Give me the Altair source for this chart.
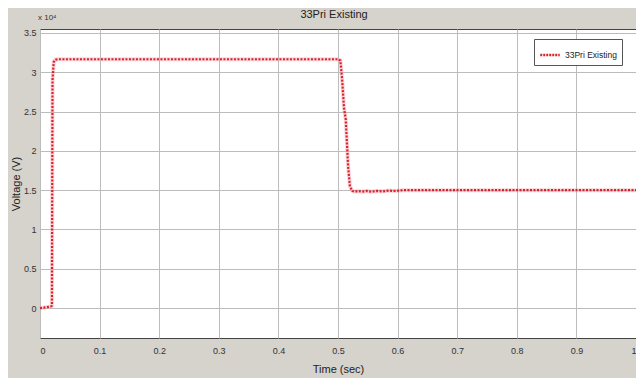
import altair as alt
import pandas as pd

# Time (sec) and voltage (V)
time_s = [0.0, 0.010, 0.018, 0.020, 0.021, 0.023, 0.026, 0.030, 0.10, 0.20, 0.30, 0.40, 0.500,
          0.504, 0.507, 0.510, 0.513, 0.517, 0.520, 0.524, 0.528, 0.534, 0.540, 0.548, 0.556,
          0.565, 0.575, 0.585, 0.595, 0.610, 0.70, 0.80, 0.90, 1.0]
voltage = [0, 100, 200, 300, 29000, 31300, 31600, 31650, 31650, 31650, 31650, 31650, 31650,
           31500, 29000, 25500, 24000, 18000, 15500, 14900, 14800, 14900, 14800, 14900, 14800,
           14900, 14850, 14950, 14900, 15000, 15000, 15000, 15000, 15000]
series_name = "33Pri Existing"
chart_title = "33Pri Existing"
x_ticks = [0, 0.1, 0.2, 0.3, 0.4, 0.5, 0.6, 0.7, 0.8, 0.9, 1.0]
y_ticks = [0, 5000, 10000, 15000, 20000, 25000, 30000, 35000]

df = pd.DataFrame({"t": time_s, "v": voltage, "s": [series_name] * len(time_s)})

font = "Liberation Sans"

x_enc = alt.X("t:Q", scale=alt.Scale(domain=[0, 1], nice=False, zero=False),
              axis=alt.Axis(values=x_ticks, title="Time (sec)", grid=True, ticks=False,
                            labelPadding=8, titlePadding=8,
                            labelExpr="datum.value == 0 ? '0' : datum.value == 1 ? '1' : format(datum.value, '.1f')"))
y_enc = alt.Y("v:Q", scale=alt.Scale(domain=[-3800, 35500], nice=False, zero=False),
              axis=alt.Axis(values=y_ticks, title="Voltage (V)", grid=True, ticks=False,
                            labelPadding=4, titlePadding=2,
                            labelExpr="datum.value / 10000"))

glow = alt.Chart(df).mark_line(color="#f4a0a8", strokeWidth=4, opacity=0.45).encode(
    x=x_enc, y=y_enc, order="t:Q")

line = alt.Chart(df).mark_line(strokeWidth=2.2, strokeDash=[2, 1.5]).encode(
    x="t:Q", y="v:Q", order="t:Q",
    color=alt.Color("s:N", scale=alt.Scale(range=["#d8232e"]),
                    legend=alt.Legend(title=None, orient="none", legendX=494, legendY=10,
                                      symbolType="stroke", symbolStrokeWidth=2.5,
                                      symbolSize=380, symbolDash=[2, 1],
                                      strokeColor="#555555", fillColor="white",
                                      padding=5, labelFont=font, labelFontSize=8.5,
                                      labelColor="#222222")))

mult = alt.Chart(pd.DataFrame({"m": ["x 10\u2074"]})).mark_text(
    font=font, fontSize=8, color="#333333", align="left", baseline="middle").encode(
    text="m:N", x=alt.value(-2), y=alt.value(-11))

ttl = alt.Chart(pd.DataFrame({"m": [chart_title]})).mark_text(
    font=font, fontSize=11, color="#222222", align="center", baseline="middle").encode(
    text="m:N", x=alt.value(294), y=alt.value(-14))

chart = alt.layer(glow, line, mult, ttl).properties(
    width=596, height=309,
    background="#d6d2cc",
    padding={"left": 32, "top": 21, "right": 0, "bottom": 40},
    autosize=alt.AutoSizeParams(type="none"),
).configure_view(
    fill="white", stroke="#444444", strokeWidth=1
).configure_axis(
    labelFont=font, titleFont=font, labelFontSize=9, titleFontSize=11,
    titleFontWeight="normal", labelColor="#333333", titleColor="#222222",
    gridColor="#bcbcbc", gridWidth=1, domain=False,
)

chart.save("out.html", embed_options={"renderer": "svg", "actions": False})
